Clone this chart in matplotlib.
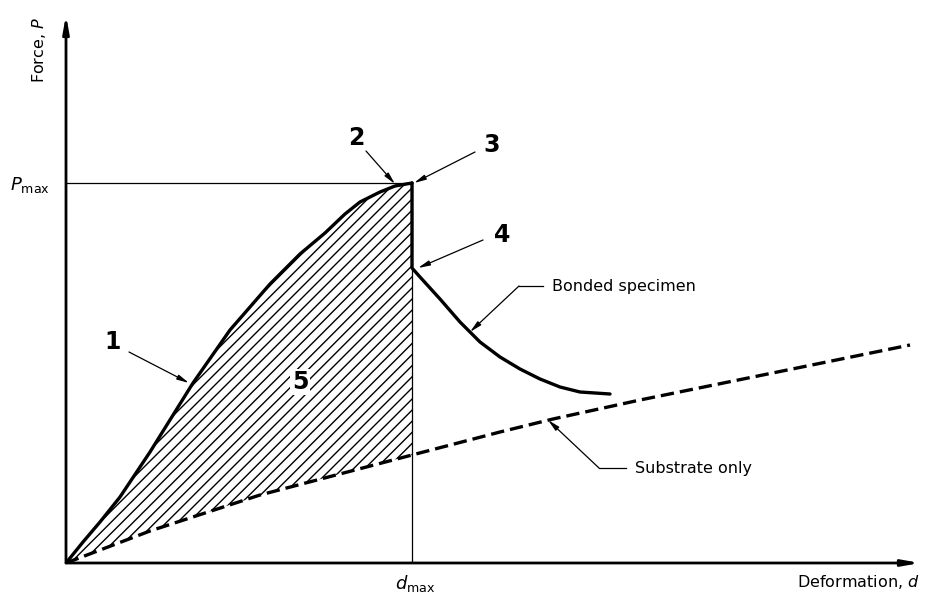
import matplotlib.pyplot as plt
import numpy as np

# curves (deformation, force) in drawing units
bonded_rise_d = [0, 17, 34, 54, 84, 127, 164, 204, 234, 259, 279, 294, 314, 329, 346]
bonded_rise_p = [0, 21, 41, 66, 111, 180, 233, 279, 309, 330, 349, 361, 371, 377, 380]
bonded_fall_d = [346, 346, 354, 374, 394, 414, 434, 454, 474, 494, 514, 544]
bonded_fall_p = [380, 295, 286, 264, 241, 221, 206, 194, 184, 176, 171, 169]
substrate_d = [0, 84, 194, 346, 434, 487, 574, 844]
substrate_p = [0, 32, 68, 108, 131, 144, 163, 218]

d_max = 346
p_max = 380

# numbered callouts: label, text position, arrow tail, arrow tip
callouts = [
    ("1", (47, 221), (63, 211), (123, 180)),
    ("2", (290, 425), (300, 412), (329, 379)),
    ("3", (426, 418), (409, 411), (348, 380)),
    ("4", (436, 328), (417, 323), (352, 295)),
]

plt.rcParams.update({"font.family": "DejaVu Sans", "mathtext.fontset": "dejavusans"})

fig = plt.figure(figsize=(9.27, 5.93), dpi=100)
ax = fig.add_axes([66 / 927, 30 / 593, 854 / 927, 548 / 593])
ax.set_xlim(0, 854)
ax.set_ylim(0, 548)
ax.axis("off")

# axes with arrows
axis_arrow = dict(arrowstyle="-|>,head_length=1.0,head_width=0.18", lw=2.0, color="black",
                  shrinkA=0, shrinkB=0)
ax.annotate("", xy=(854, 0), xytext=(0, 0), arrowprops=axis_arrow, annotation_clip=False)
ax.annotate("", xy=(0, 548), xytext=(0, 0), arrowprops=axis_arrow, annotation_clip=False)

# reference lines at the peak
ax.plot([0, d_max], [p_max, p_max], color="black", lw=0.9)
ax.plot([d_max, d_max], [0, p_max], color="black", lw=0.9)

# hatched area between bonded curve and substrate
rise_d = np.array(bonded_rise_d, dtype=float)
sub_at_rise = np.interp(rise_d, substrate_d, substrate_p)
ax.fill_between(rise_d, sub_at_rise, bonded_rise_p, facecolor="none", edgecolor="black",
                hatch="///", lw=0)

# curves
ax.plot(bonded_rise_d, bonded_rise_p, color="black", lw=2.4, solid_capstyle="round",
        solid_joinstyle="round")
ax.plot(bonded_fall_d, bonded_fall_p, color="black", lw=2.4, solid_capstyle="round",
        solid_joinstyle="round")
ax.plot(substrate_d, substrate_p, color="black", lw=2.4, linestyle=(0, (4, 1.8)))

# numbered callouts
small_arrow = dict(arrowstyle="-|>,head_length=0.7,head_width=0.15", lw=0.9, color="black",
                   shrinkA=0, shrinkB=0)
for label, pos, tail, tip in callouts:
    ax.text(pos[0], pos[1], label, fontsize=17, fontweight="bold", ha="center", va="center")
    ax.annotate("", xy=tip, xytext=tail, arrowprops=small_arrow)
ax.text(234, 181, "5", fontsize=17, fontweight="bold", ha="center", va="center",
        bbox=dict(facecolor="white", edgecolor="none", pad=1))

# leaders
ax.plot([453, 477], [277, 277], color="black", lw=0.9)
ax.annotate("", xy=(404, 231), xytext=(453, 277), arrowprops=small_arrow)
ax.text(486, 277, "Bonded specimen", fontsize=11.5, ha="left", va="center")

ax.plot([533, 560], [95, 95], color="black", lw=0.9)
ax.annotate("", xy=(482, 143), xytext=(533, 95), arrowprops=small_arrow)
ax.text(569, 95, "Substrate only", fontsize=11.5, ha="left", va="center")

# axis labels
ax.text(-27, 513, "Force, $P$", fontsize=11.5, rotation=90, ha="center", va="center")
ax.text(-36, p_max - 2, "$P_{\\mathrm{max}}$", fontsize=13, ha="center", va="center")
ax.text(d_max + 3, -21, "$d_{\\mathrm{max}}$", fontsize=13, ha="center", va="center")
ax.text(854, -19, "Deformation, $d$", fontsize=11.5, ha="right", va="center")

fig.savefig("out.png", dpi=100)
